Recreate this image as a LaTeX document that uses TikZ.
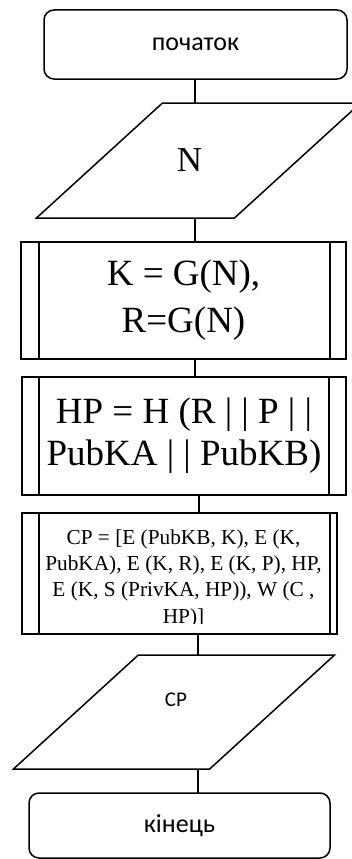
\documentclass[tikz,border=0pt]{standalone}
\usepackage{fontspec}
\setmainfont{Liberation Serif}
\newfontfamily\calfont{Carlito}
\usetikzlibrary{shapes.geometric,calc}

\begin{document}
\begin{tikzpicture}[x=1pt, y=-1pt, line width=1.5pt,
  term/.style={draw, rounded corners=10pt, outer sep=0pt, font=\calfont\fontsize{26}{30}\selectfont},
  io/.style={draw, trapezium, trapezium left angle=55, trapezium right angle=125,
             trapezium stretches=true, outer sep=0pt, inner sep=4pt},
  subproc/.style 2 args={draw, outer sep=0pt, inner sep=0pt, align=center,
    path picture={\draw ([xshift=#1]path picture bounding box.north west) -- ([xshift=#1]path picture bounding box.south west);
                  \draw ([xshift=-#2]path picture bounding box.north east) -- ([xshift=-#2]path picture bounding box.south east);}}]
\useasboundingbox (0,0) rectangle (351,859);
\node[term, minimum width=303pt, minimum height=69pt] (start) at (195.5,44.5) {початок};
\node[io, minimum width=325pt, minimum height=115pt] (inN) at (198.5,160.5) {\strut};
\node[font=\fontsize{35}{40}\selectfont] (ntxt) at (189.5,160) {N};
\node[subproc={18pt}{16pt}, minimum width=325pt, minimum height=117pt, font=\fontsize{37}{47}\selectfont]
  (kr) at (183.5,300.5) {K = G(N),\\R=G(N)};
\node[subproc={17pt}{17pt}, minimum width=324pt, minimum height=118pt, font=\fontsize{37}{42}\selectfont]
  (hp) at (184,436) {HP = H (R | | P | |\\PubKA | | PubKB)};
\node[subproc={17pt}{7pt}, minimum width=315pt, minimum height=121pt] (cp) at (179.5,573.5) {};
\begin{scope}
\clip (cp.north west) rectangle ($(cp.south east)+(0,-11)$);
\node[align=center, font=\fontsize{21.3}{26.3}\selectfont] (cptxt) at (183.5,578.5)
  {CP = [E (PubKB, K), E (K,\\PubKA), E (K, R), E (K, P), HP,\\E (K, S (PrivKA, HP)), W (C ,\\HP)]};
\end{scope}
\node[io, minimum width=322pt, minimum height=114pt] (outcp) at (174,712) {\strut};
\node[font=\calfont\fontsize{21}{25}\selectfont] (cplbl) at (176,700) {CP};
\node[term, minimum width=301pt, minimum height=65pt] (stop) at (179.5,825.5) {кінець};
\coordinate (ax) at (195,0);
\coordinate (bx) at (199,0);
\coordinate (cx) at (198,0);
\draw (start.south -| ax) -- (inN.north -| ax);
\draw (inN.south -| ax) -- (kr.north -| ax);
\draw (kr.south -| ax) -- (hp.north -| ax);
\draw (hp.south -| bx) -- (cp.north -| bx);
\draw (cp.south -| cx) -- (outcp.north -| cx);
\draw (outcp.south -| cx) -- (stop.north -| cx);
\end{tikzpicture}
\end{document}
